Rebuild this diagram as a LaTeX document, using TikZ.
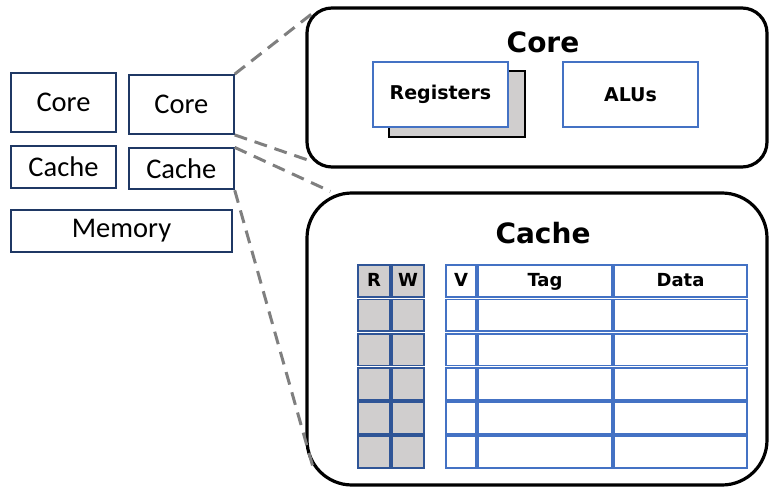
\documentclass[tikz,border=0pt]{standalone}
\usepackage{fontspec}
\setmainfont{Carlito}
\newfontfamily\headfont{DejaVu Sans}
\usetikzlibrary{positioning, calc}
\definecolor{navy}{RGB}{31, 56, 100}
\definecolor{cellblue}{RGB}{68, 114, 196}
\definecolor{darkcell}{RGB}{47, 85, 151}
\definecolor{cellgray}{RGB}{208, 206, 206}
\definecolor{linkgray}{RGB}{127, 127, 127}
\tikzset{
  x=1pt, y=-1pt,
  unitblock/.style={
    rectangle, draw=navy, fill=white, line width=1.8pt,
    minimum width=105pt, inner sep=0pt,
    font=\fontsize{28.5}{30}\selectfont
  },
  zoomblock/.style={
    rectangle, draw=black, fill=white, line width=3.2pt,
    minimum width=460pt
  },
  zoomtitle/.style={font=\headfont\bfseries\fontsize{28}{30}\selectfont, inner sep=0pt},
  partblock/.style={
    rectangle, draw=cellblue, fill=white, line width=1.6pt,
    minimum width=135pt, minimum height=65pt,
    font=\headfont\bfseries\fontsize{19}{21}\selectfont
  },
  shadowblock/.style={
    rectangle, draw=black, fill=cellgray, line width=1.6pt,
    minimum width=136pt, minimum height=66pt
  },
  bitcell/.style={
    rectangle, draw=darkcell, fill=cellgray, line width=1.8pt,
    minimum height=31.8pt, minimum width=31.6pt, inner sep=0pt,
    text height=13pt, text depth=3pt,
    font=\headfont\bfseries\fontsize{18}{20}\selectfont
  },
  linecell/.style={
    rectangle, draw=cellblue, fill=white, line width=1.8pt,
    minimum height=31.8pt, inner sep=0pt,
    text height=13pt, text depth=3pt,
    font=\headfont\bfseries\fontsize{18}{20}\selectfont
  },
  zoomline/.style={draw=linkgray, line width=3pt, dash pattern=on 13pt off 8pt}
}

\begin{document}
\begin{tikzpicture}
  \useasboundingbox (0,0) rectangle (769,487);

  % Left: the chip overview
  \node[unitblock, minimum height=59pt] (core1) at (63.5,102.5) {Core};
  \node[unitblock, minimum height=59pt, right=11pt of core1, yshift=-2pt] (core2) {Core};
  \node[unitblock, minimum height=42pt, below=12pt of core1] (cache1) {Cache};
  \node[unitblock, minimum height=41pt, right=11pt of cache1, yshift=-2pt] (cache2) {Cache};
  \node[unitblock, minimum height=42pt, minimum width=221pt, below=20pt of cache1.south west, anchor=north west] (memory) {Memory};

  % Right top: inside a core
  \node[zoomblock, minimum height=159pt, rounded corners=25pt] (corebox) at (537,87.5) {};
  \node[zoomtitle] (coretitle) at (543,42) {Core};
  \node[shadowblock] (regshadow) at (457,104) {};
  \node[partblock] (registers) at (440.5,94.5) {Registers};
  \node[partblock] (alus) at (630.5,94.5) {ALUs};

  % Right bottom: inside a cache
  \node[zoomblock, minimum height=292pt, rounded corners=45pt] (cachebox) at (537,339) {};
  \node[zoomtitle] (cachetitle) at (543,233) {Cache};

  % header row
  \node[bitcell] (rbit0) at (374,281.1) {R};
  \node[bitcell] (wbit0) at (408,281.1) {W};
  \node[linecell, minimum width=29.6pt] (valid0) at (461,281.1) {V};
  \node[linecell, minimum width=133.6pt] (tag0) at (545,281.1) {Tag};
  \node[linecell, minimum width=132.6pt] (data0) at (680.5,281.1) {Data};

  % cache lines
  \foreach \row in {1,...,5} {
    \pgfmathsetmacro\cy{281.1+34.2*\row}
    \node[bitcell] (rbit\row) at (374,\cy) {};
    \node[bitcell] (wbit\row) at (408,\cy) {};
    \node[linecell, minimum width=29.6pt] (valid\row) at (461,\cy) {};
    \node[linecell, minimum width=133.6pt] (tag\row) at (545,\cy) {};
    \node[linecell, minimum width=132.6pt] (data\row) at (680.5,\cy) {};
  }

  % Zoom-in guides
  \draw[zoomline] (core2.north east) -- ([shift={(7pt,-7pt)}]corebox.north west);
  \draw[zoomline] (core2.south east) -- ([shift={(7pt,7pt)}]corebox.south west);
  \draw[zoomline] (cache2.north east) -- ([xshift=25pt]cachebox.north west);
  \draw[zoomline] (cache2.south east) -- ([shift={(8pt,18pt)}]cachebox.south west);
\end{tikzpicture}
\end{document}
